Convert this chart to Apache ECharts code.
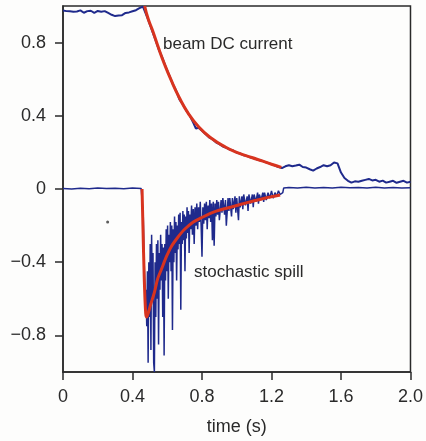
<!DOCTYPE html>
<html>
<head>
<meta charset="utf-8">
<script src="https://cdn.jsdelivr.net/npm/echarts@6/dist/echarts.min.js"></script>
<style>
  html, body { margin: 0; padding: 0; background: #fdfdfc; }
  #chart { width: 426px; height: 441px; }
</style>
</head>
<body>
<div id="chart"></div>
<script>
// tick labels
const xTicks = [0, 0.4, 0.8, 1.2, 1.6, 2.0];
const xTickLabels = ['0', '0.4', '0.8', '1.2', '1.6', '2.0'];
const yTicks = [-0.8, -0.4, 0, 0.4, 0.8];
const yTickLabels = ['\u22120.8', '\u22120.4', '0', '0.4', '0.8'];

// beam DC current, measured trace [time, value]
const beamMeasured = [
  [0, 0.975], [0.01, 0.968], [0.02, 0.972], [0.03, 0.965], [0.04, 0.971], [0.05, 0.976], [0.06, 0.969],
  [0.07, 0.964], [0.08, 0.97], [0.09, 0.973], [0.1, 0.976], [0.11, 0.969], [0.12, 0.963], [0.13, 0.967],
  [0.14, 0.972], [0.15, 0.968], [0.16, 0.974], [0.17, 0.966], [0.18, 0.963], [0.19, 0.97], [0.2, 0.973],
  [0.21, 0.976], [0.22, 0.969], [0.23, 0.966], [0.24, 0.972], [0.25, 0.968], [0.26, 0.962], [0.27, 0.958],
  [0.28, 0.952], [0.29, 0.948], [0.3, 0.945], [0.31, 0.953], [0.32, 0.948], [0.33, 0.944], [0.34, 0.95],
  [0.35, 0.957], [0.36, 0.962], [0.37, 0.958], [0.38, 0.965], [0.39, 0.968], [0.4, 0.971], [0.41, 0.973],
  [0.42, 0.977], [0.43, 0.982], [0.44, 0.988], [0.45, 0.992], [0.46, 0.997], [0.47, 1.0],
  [0.49, 0.925], [0.51, 0.872], [0.53, 0.82], [0.55, 0.765], [0.57, 0.722], [0.59, 0.67], [0.61, 0.625],
  [0.63, 0.578], [0.65, 0.54], [0.67, 0.49], [0.69, 0.462], [0.71, 0.428], [0.73, 0.4], [0.75, 0.362],
  [0.765, 0.33], [0.78, 0.335], [0.8, 0.318], [0.82, 0.3], [0.84, 0.282], [0.86, 0.272], [0.88, 0.255],
  [0.9, 0.245], [0.92, 0.232], [0.94, 0.225], [0.96, 0.216], [0.98, 0.21], [1.0, 0.198], [1.02, 0.194],
  [1.04, 0.184], [1.06, 0.18], [1.08, 0.172], [1.1, 0.168], [1.12, 0.16], [1.14, 0.156], [1.16, 0.148],
  [1.18, 0.142], [1.2, 0.136], [1.22, 0.128], [1.24, 0.12], [1.26, 0.114], [1.28, 0.124], [1.3, 0.13],
  [1.32, 0.124], [1.34, 0.128], [1.36, 0.133], [1.38, 0.12], [1.4, 0.117], [1.42, 0.108], [1.44, 0.1],
  [1.46, 0.112], [1.48, 0.12], [1.5, 0.13], [1.52, 0.124], [1.54, 0.13], [1.56, 0.145], [1.58, 0.14],
  [1.59, 0.13], [1.6, 0.09], [1.62, 0.06], [1.64, 0.045], [1.66, 0.035], [1.68, 0.042], [1.7, 0.04],
  [1.72, 0.045], [1.74, 0.05], [1.76, 0.055], [1.78, 0.047], [1.8, 0.05], [1.82, 0.04], [1.84, 0.046],
  [1.86, 0.035], [1.88, 0.04], [1.9, 0.045], [1.92, 0.034], [1.94, 0.04], [1.96, 0.045], [1.98, 0.035],
  [2.0, 0.04]
];

// beam DC current, fitted curve
const beamFit = [
  [0.47, 1.0], [0.49, 0.93], [0.514, 0.87], [0.55, 0.77], [0.583, 0.685], [0.62, 0.6], [0.669, 0.5],
  [0.72, 0.415], [0.783, 0.337], [0.85, 0.28], [0.937, 0.228], [1.0, 0.2], [1.086, 0.172],
  [1.15, 0.152], [1.2, 0.135], [1.257, 0.118]
];

// stochastic spill, measured trace
const spillMeasured = [
  [0, 0.003], [0.05, 0.0], [0.1, 0.004], [0.15, 0.002], [0.2, 0.005], [0.25, 0.003], [0.3, 0.004],
  [0.35, 0.002], [0.4, 0.005], [0.45, 0.003], [0.458, 0.0],
  [0.462, -0.15], [0.466, -0.35], [0.47, -0.5], [0.474, -0.62], [0.478, -0.55], [0.482, -0.75],
  [0.486, -0.45], [0.49, -0.95], [0.494, -0.4], [0.498, -0.7], [0.502, -0.3], [0.506, -0.88],
  [0.51, -0.25], [0.514, -0.6], [0.518, -0.35], [0.522, -0.95], [0.526, -1.0], [0.53, -0.4],
  [0.534, -0.7], [0.538, -0.3], [0.542, -0.6], [0.546, -0.28], [0.55, -0.85], [0.554, -0.35],
  [0.558, -0.55], [0.562, -0.25], [0.566, -0.5], [0.57, -0.3], [0.574, -0.7], [0.578, -0.32],
  [0.582, -0.91], [0.586, -0.3], [0.59, -0.5], [0.594, -0.22], [0.598, -0.45], [0.602, -0.2],
  [0.606, -0.6], [0.61, -0.25], [0.614, -0.4], [0.618, -0.18], [0.622, -0.45], [0.626, -0.2],
  [0.63, -0.77], [0.634, -0.22], [0.638, -0.4], [0.642, -0.15], [0.646, -0.35], [0.65, -0.18],
  [0.654, -0.5], [0.658, -0.2], [0.662, -0.33], [0.666, -0.14], [0.67, -0.3], [0.674, -0.13],
  [0.678, -0.66], [0.682, -0.18], [0.686, -0.3], [0.69, -0.12], [0.694, -0.28], [0.698, -0.14],
  [0.702, -0.45], [0.706, -0.15], [0.71, -0.27], [0.714, -0.1], [0.718, -0.24], [0.722, -0.12],
  [0.726, -0.35], [0.73, -0.14], [0.735, -0.22], [0.74, -0.09], [0.745, -0.25], [0.75, -0.11],
  [0.755, -0.3], [0.76, -0.1], [0.765, -0.2], [0.77, -0.08], [0.775, -0.22], [0.78, -0.1],
  [0.785, -0.18], [0.79, -0.07], [0.795, -0.2], [0.8, -0.37], [0.805, -0.1], [0.81, -0.19],
  [0.815, -0.08], [0.82, -0.17], [0.825, -0.07], [0.83, -0.22], [0.835, -0.09], [0.84, -0.16],
  [0.845, -0.06], [0.85, -0.18], [0.855, -0.08], [0.86, -0.28], [0.865, -0.07], [0.87, -0.31],
  [0.875, -0.08], [0.88, -0.15], [0.885, -0.06], [0.89, -0.14], [0.895, -0.07], [0.9, -0.17],
  [0.91, -0.06], [0.915, -0.13], [0.92, -0.05], [0.93, -0.14], [0.935, -0.06], [0.94, -0.2],
  [0.95, -0.05], [0.955, -0.12], [0.96, -0.05], [0.97, -0.15], [0.975, -0.05], [0.98, -0.11],
  [0.99, -0.04], [0.995, -0.13], [1.0, -0.05], [1.01, -0.17], [1.015, -0.04], [1.02, -0.1],
  [1.03, -0.04], [1.035, -0.11], [1.04, -0.03], [1.05, -0.09], [1.06, -0.04], [1.065, -0.12],
  [1.07, -0.03], [1.08, -0.08], [1.09, -0.03], [1.095, -0.1], [1.1, -0.03], [1.11, -0.07],
  [1.12, -0.02], [1.125, -0.08], [1.13, -0.03], [1.14, -0.06], [1.15, -0.02], [1.155, -0.07],
  [1.16, -0.02], [1.17, -0.06], [1.18, -0.02], [1.19, -0.05], [1.2, -0.01], [1.21, -0.05],
  [1.22, -0.02], [1.23, -0.04], [1.24, -0.01], [1.25, -0.03], [1.26, -0.02], [1.265, -0.02],
  [1.27, 0.005], [1.3, 0.008], [1.35, 0.005], [1.4, 0.01], [1.45, 0.006], [1.5, 0.008], [1.55, 0.005],
  [1.6, 0.01], [1.65, 0.007], [1.7, 0.008], [1.75, 0.005], [1.8, 0.009], [1.85, 0.006], [1.9, 0.008],
  [1.95, 0.005], [2.0, 0.007]
];

// stochastic spill, fitted curve
const spillFit = [
  [0.455, 0.0], [0.46, -0.2], [0.468, -0.5], [0.476, -0.68], [0.482, -0.7], [0.49, -0.68],
  [0.505, -0.63], [0.526, -0.565], [0.545, -0.49], [0.566, -0.44], [0.595, -0.37], [0.623, -0.315],
  [0.66, -0.265], [0.697, -0.223], [0.75, -0.18], [0.794, -0.158], [0.87, -0.125], [0.97, -0.098],
  [1.07, -0.072], [1.166, -0.049], [1.25, -0.033]
];

// stray dot
const strayDot = [[0.257, -0.18]];

const chart = echarts.init(document.getElementById('chart'));
const FONT = '"Liberation Sans", Arial, sans-serif';
const BLUE = '#1f2a8c';
const RED = '#d8341f';
const INK = '#2a2a2a';

const option = {
  animation: false,
  backgroundColor: '#fdfdfc',
  grid: {
    left: 63, right: 13, top: 6, bottom: 67,
    show: true, borderColor: INK, borderWidth: 1.5, backgroundColor: 'transparent'
  },
  xAxis: {
    type: 'value', min: 0, max: 2, interval: 0.4,
    name: 'time (s)', nameLocation: 'middle', nameGap: 46,
    nameTextStyle: { fontFamily: FONT, fontSize: 18, color: INK },
    axisLine: { onZero: false, lineStyle: { color: INK, width: 1.5 } },
    axisTick: { show: true, length: 8, lineStyle: { color: INK, width: 1.5 } },
    axisLabel: {
      margin: 16, fontFamily: FONT, fontSize: 18, color: INK,
      formatter: v => { const i = xTicks.findIndex(t => Math.abs(t - v) < 1e-6); return i >= 0 ? xTickLabels[i] : ''; }
    },
    splitLine: { show: false }
  },
  yAxis: {
    type: 'value', min: -1, max: 1,
    axisLine: { show: true, onZero: false, lineStyle: { color: INK, width: 1.5 } },
    axisTick: { show: true, length: 8, customValues: yTicks, lineStyle: { color: INK, width: 1.5 } },
    axisLabel: {
      margin: 17, fontFamily: FONT, fontSize: 18, color: INK, customValues: yTicks,
      formatter: v => { const i = yTicks.findIndex(t => Math.abs(t - v) < 1e-6); return i >= 0 ? yTickLabels[i] : ''; }
    },
    splitLine: { show: false }
  },
  series: [
    { type: 'line', data: beamMeasured, symbol: 'none', lineStyle: { color: BLUE, width: 2 }, z: 2 },
    { type: 'line', data: spillMeasured, symbol: 'none', lineStyle: { color: BLUE, width: 1.5 }, z: 2 },
    { type: 'line', data: beamFit, symbol: 'none', smooth: true, lineStyle: { color: RED, width: 3 }, z: 3 },
    { type: 'line', data: spillFit, symbol: 'none', smooth: 0.3, lineStyle: { color: RED, width: 3 }, z: 3 },
    { type: 'scatter', data: strayDot, symbolSize: 3, itemStyle: { color: '#333' }, z: 3 }
  ],
  graphic: [
    { type: 'text', left: 163, top: 36, style: { text: 'beam DC current', font: '17px ' + FONT, fill: INK } },
    { type: 'text', left: 194, top: 264, style: { text: 'stochastic spill', font: '17px ' + FONT, fill: INK } }
  ]
};

chart.setOption(option);
</script>
</body>
</html>
